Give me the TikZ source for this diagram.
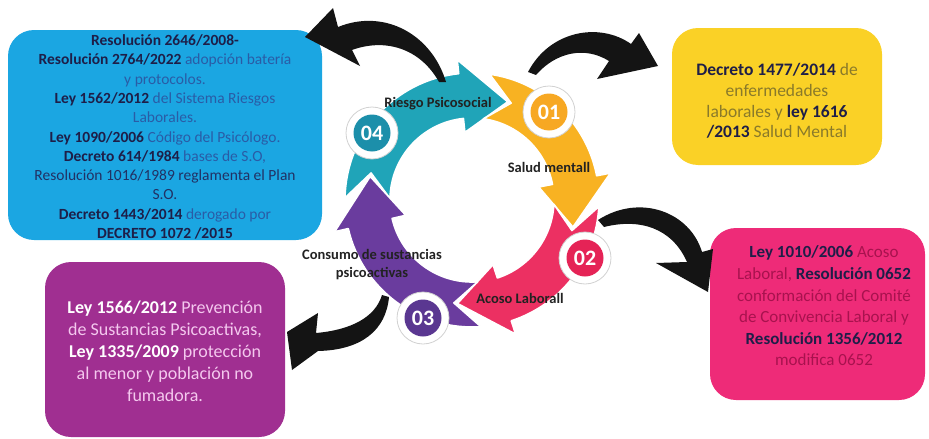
\documentclass[tikz,border=0pt]{standalone}
\usepackage{fontspec}
\setmainfont{Carlito}
\definecolor{bluebox}{HTML}{1BA6E2}
\definecolor{bluereg}{HTML}{2A5CA6}
\definecolor{yellowbox}{HTML}{FAD126}
\definecolor{yellowreg}{HTML}{8A7A2A}
\definecolor{pinkbox}{HTML}{EE2B78}
\definecolor{pinkreg}{HTML}{A8124E}
\definecolor{purplebox}{HTML}{A02F91}
\definecolor{purplereg}{HTML}{F4C8EE}
\definecolor{navy}{HTML}{1E1E48}
\definecolor{tealarr}{HTML}{20A4B8}
\definecolor{tealdot}{HTML}{1C8FAA}
\definecolor{orangearr}{HTML}{F8B222}
\definecolor{orangedot}{HTML}{F7A823}
\definecolor{pinkarr}{HTML}{EC3062}
\definecolor{pinkdot}{HTML}{E52356}
\definecolor{purplearr}{HTML}{6A3C9E}
\definecolor{purpledot}{HTML}{5A3791}
\definecolor{labeltext}{HTML}{222222}
\newcommand{\bnv}[1]{\textbf{\color{navy}#1}}
\newcommand{\bwh}[1]{\textbf{\color{white}#1}}
\def\ri{82}\def\ro{127}\def\rmid{104.5}\def\hw{14}\def\hd{26}\def\nd{14}
\newcommand{\ringarrow}[3]{%
  \pgfmathsetmacro{\hb}{#3+\hd}%
  \pgfmathsetmacro{\nv}{#2-\nd}%
  \pgfmathsetmacro{\rinn}{\ri-\hw}%
  \pgfmathsetmacro{\rout}{\ro+\hw}%
  \fill[#1, draw=white, line width=1.6pt, line join=round]
    (#2:\ri) arc[start angle=#2, end angle=\hb, radius=\ri]
    -- (\hb:\rinn) -- (#3:\rmid) -- (\hb:\rout) -- (\hb:\ro)
    arc[start angle=\hb, end angle=#2, radius=\ro]
    -- (\nv:\rmid) -- cycle;}
\begin{document}
\begin{tikzpicture}[x=1pt,y=-1pt]
\useasboundingbox (0,0) rectangle (929,439);
\tikzset{
  legalbox/.style={rounded corners=26pt, inner sep=0pt, draw=none},
  boxtext/.style={align=center, inner sep=0pt},
  ringlabel/.style={font={\fontsize{14.5}{17}\selectfont\bfseries}, text=labeltext, align=center, inner sep=0pt},
  dotring/.style={circle, fill=white, draw=black!18, line width=0.8pt, minimum size=52pt, inner sep=0pt},
  dotnum/.style={circle, minimum size=37pt, inner sep=0pt, text=white, font={\fontsize{22}{22}\selectfont\bfseries}},
  brush/.style={fill=black!92, draw=none}
}

% ---------- boxes ----------
\node[legalbox, fill=bluebox, minimum width=314pt, minimum height=210pt] (bluebox) at (165,135) {};
\node[boxtext, text=bluereg, font={\fontsize{15.5}{19.3}\selectfont}] (bluetext) at (165,137) {%
\bnv{Resolución 2646/2008-}\\
\bnv{Resolución 2764/2022} adopción batería\\
y protocolos.\\
\bnv{Ley 1562/2012} del Sistema Riesgos\\
Laborales.\\
\bnv{Ley 1090/2006} Código del Psicólogo.\\
\bnv{Decreto 614/1984} bases de S.O,\\
{\color{navy!70!bluereg}Resolución 1016/1989 reglamenta el Plan}\\
{\color{navy!70!bluereg}S.O.}\\
\bnv{Decreto 1443/2014} derogado por\\
\bnv{DECRETO 1072 /2015}};

\node[legalbox, fill=yellowbox, minimum width=210pt, minimum height=137pt] (yellowbox) at (777,96.5) {};
\node[boxtext, text=yellowreg, font={\fontsize{17.5}{20.7}\selectfont}] (yellowtext) at (777,101) {%
\bnv{Decreto 1477/2014} de\\
enfermedades\\
laborales y \bnv{ley 1616}\\
\bnv{/2013} Salud Mental};

\node[legalbox, fill=pinkbox, minimum width=215pt, minimum height=172pt] (pinkbox) at (817.5,314) {};
\node[boxtext, text=pinkreg, font={\fontsize{17}{21.6}\selectfont}] (pinktext) at (824,306) {%
\bnv{Ley 1010/2006} Acoso\\
Laboral, \bnv{Resolución 0652}\\
conformación del Comité\\
de Convivencia Laboral y\\
\bnv{Resolución 1356/2012}\\
modifica 0652};

\node[legalbox, fill=purplebox, minimum width=240pt, minimum height=175pt] (purplebox) at (165,349.5) {};
\node[boxtext, text=purplereg, font={\fontsize{18}{22}\selectfont}] (purpletext) at (165,351.5) {%
\bwh{Ley 1566/2012} Prevención\\
de Sustancias Psicoactivas,\\
\bwh{Ley 1335/2009} protección\\
al menor y población no\\
fumadora.};

% ---------- cycle ----------
\begin{scope}[shift={(472,200)}, y=1pt]
  \ringarrow{tealarr}{179}{70}
  \ringarrow{orangearr}{82}{-15}
  \ringarrow{pinkarr}{-3}{-98}
  \ringarrow{purplearr}{274}{167}
\end{scope}

\node[dotring] (c1) at (549,112) {};
\node[dotnum, fill=orangedot] (n1) at (c1) {01};
\node[dotring] (c2) at (585,258) {};
\node[dotnum, fill=pinkdot] (n2) at (c2) {02};
\node[dotring] (c3) at (423,318) {};
\node[dotnum, fill=purpledot] (n3) at (c3) {03};
\node[dotring] (c4) at (372,133) {};
\node[dotnum, fill=tealdot] (n4) at (c4) {04};

\node[ringlabel] (l4) at (438,104) {Riesgo Psicosocial};
\node[ringlabel] (l1) at (549,167) {Salud mentall};
\node[ringlabel] (l2) at (520,298) {Acoso Laborall};
\node[ringlabel, font={\fontsize{14.5}{18}\selectfont\bfseries}] (l3) at (372,265) {Consumo de sustancias\\psicoactivas};

% ---------- brush arrows ----------
% to blue box
\fill[brush] (305,37) -- (333,8) -- (338,27)
  .. controls (385,8) and (432,35) .. (446,82) -- (439,82)
  .. controls (420,48) and (385,38) .. (352,50) -- (360,66) -- cycle;
% to yellow box
\fill[brush] (658,66) -- (597,79) -- (609,61)
  .. controls (585,46) and (556,52) .. (536,75) -- (528,72)
  .. controls (550,30) and (600,22) .. (631,44) -- (639,33) -- cycle;
% to pink box
\fill[brush] (708,292) -- (656,263) -- (687,262)
  .. controls (672,228) and (640,218) .. (604,227) -- (598,220)
  .. controls (640,193) and (690,212) .. (702,252) -- (713,249) -- cycle;
% to purple box
\fill[brush] (287,332) -- (318,313) -- (316,333)
  .. controls (350,330) and (375,318) .. (382,295) -- (389,297)
  .. controls (386,330) and (362,350) .. (318,351) -- (292,370) -- cycle;
\end{tikzpicture}
\end{document}
